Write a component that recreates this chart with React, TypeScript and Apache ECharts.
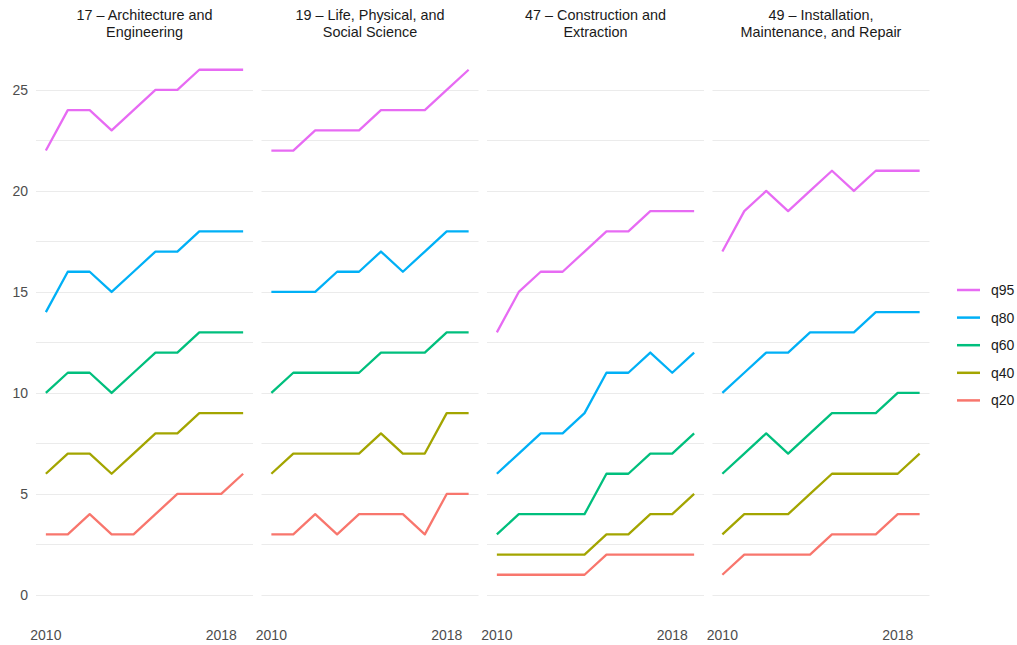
import React, { useEffect, useRef } from "react";
import * as echarts from "echarts";

const years = [2010, 2011, 2012, 2013, 2014, 2015, 2016, 2017, 2018, 2019];
const xTickLabels = [2010, 2018];
const yTickLabels = [0, 5, 10, 15, 20, 25];
const yGridLines = [0, 2.5, 5, 7.5, 10, 12.5, 15, 17.5, 20, 22.5, 25];

const panelTitles = [
  "17 \u2013 Architecture and\nEngineering",
  "19 \u2013 Life, Physical, and\nSocial Science",
  "47 \u2013 Construction and\nExtraction",
  "49 \u2013 Installation,\nMaintenance, and Repair",
];

const seriesNames = ["q95", "q80", "q60", "q40", "q20"];
const seriesColors = ["#E76BF3", "#00B0F6", "#00BF7D", "#A3A500", "#F8766D"];

// Panel 17
const p17_q95 = [22, 24, 24, 23, 24, 25, 25, 26, 26, 26];
const p17_q80 = [14, 16, 16, 15, 16, 17, 17, 18, 18, 18];
const p17_q60 = [10, 11, 11, 10, 11, 12, 12, 13, 13, 13];
const p17_q40 = [6, 7, 7, 6, 7, 8, 8, 9, 9, 9];
const p17_q20 = [3, 3, 4, 3, 3, 4, 5, 5, 5, 6];

// Panel 19
const p19_q95 = [22, 22, 23, 23, 23, 24, 24, 24, 25, 26];
const p19_q80 = [15, 15, 15, 16, 16, 17, 16, 17, 18, 18];
const p19_q60 = [10, 11, 11, 11, 11, 12, 12, 12, 13, 13];
const p19_q40 = [6, 7, 7, 7, 7, 8, 7, 7, 9, 9];
const p19_q20 = [3, 3, 4, 3, 4, 4, 4, 3, 5, 5];

// Panel 47
const p47_q95 = [13, 15, 16, 16, 17, 18, 18, 19, 19, 19];
const p47_q80 = [6, 7, 8, 8, 9, 11, 11, 12, 11, 12];
const p47_q60 = [3, 4, 4, 4, 4, 6, 6, 7, 7, 8];
const p47_q40 = [2, 2, 2, 2, 2, 3, 3, 4, 4, 5];
const p47_q20 = [1, 1, 1, 1, 1, 2, 2, 2, 2, 2];

// Panel 49
const p49_q95 = [17, 19, 20, 19, 20, 21, 20, 21, 21, 21];
const p49_q80 = [10, 11, 12, 12, 13, 13, 13, 14, 14, 14];
const p49_q60 = [6, 7, 8, 7, 8, 9, 9, 9, 10, 10];
const p49_q40 = [3, 4, 4, 4, 5, 6, 6, 6, 6, 7];
const p49_q20 = [1, 2, 2, 2, 2, 3, 3, 3, 4, 4];

const panels = [
  [p17_q95, p17_q80, p17_q60, p17_q40, p17_q20],
  [p19_q95, p19_q80, p19_q60, p19_q40, p19_q20],
  [p47_q95, p47_q80, p47_q60, p47_q40, p47_q20],
  [p49_q95, p49_q80, p49_q60, p49_q40, p49_q20],
];

export default function App() {
  const ref = useRef<HTMLDivElement>(null);

  useEffect(() => {
    if (!ref.current) return;
    const chart = echarts.init(ref.current, null, { renderer: "svg" });

    const panelLeft = 36;
    const panelWidth = 217;
    const panelStep = 225.5;
    const top = 44.5;
    const height = 555.5;
    const labelColor = "#4D4D4D";
    const font = "Liberation Sans, Arial, sans-serif";

    const grids: any[] = [];
    const xAxes: any[] = [];
    const yAxes: any[] = [];
    const series: any[] = [];
    const graphics: any[] = [];

    panels.forEach((panel, pi) => {
      const left = panelLeft + pi * panelStep;
      grids.push({ left, top, width: panelWidth, height, containLabel: false });
      xAxes.push({
        type: "value",
        gridIndex: pi,
        min: 2009.55,
        max: 2019.45,
        axisLine: { show: false },
        axisTick: { show: false },
        splitLine: { show: false },
        axisLabel: {
          customValues: xTickLabels,
          color: labelColor,
          fontSize: 14,
          fontFamily: font,
          margin: 28,
          formatter: (v: number) => String(v),
        },
      });
      yAxes.push({
        type: "value",
        gridIndex: pi,
        min: -0.25,
        max: 27.25,
        axisLine: { show: false },
        axisTick: { show: false },
        splitLine: { show: false },
        axisLabel: {
          show: pi === 0,
          customValues: yTickLabels,
          color: labelColor,
          fontSize: 14,
          fontFamily: font,
          margin: 8,
        },
      });
      panel.forEach((vals, si) => {
        const s: any = {
          type: "line",
          name: seriesNames[si],
          xAxisIndex: pi,
          yAxisIndex: pi,
          data: years.map((y, i) => [y, vals[i]]),
          showSymbol: false,
          symbol: "none",
          color: seriesColors[si],
          lineStyle: { width: 2.3, color: seriesColors[si], join: "round", cap: "butt" },
          z: 2,
          silent: true,
        };
        if (si === 0) {
          s.markLine = {
            silent: true,
            z: 1,
            symbol: ["none", "none"],
            label: { show: false },
            lineStyle: { type: "solid", color: "#EBEBEB", width: 1 },
            emphasis: { disabled: true },
            data: yGridLines.map((v) => ({ yAxis: v })),
          };
        }
        series.push(s);
      });
      graphics.push({
        type: "text",
        x: left + panelWidth / 2,
        y: 6,
        style: {
          text: panelTitles[pi],
          textAlign: "center",
          textVerticalAlign: "top",
          fill: "#1A1A1A",
          fontSize: 14.4,
          fontFamily: font,
          lineHeight: 17,
        },
      });
    });

    chart.setOption({
      animation: false,
      backgroundColor: "#FFFFFF",
      grid: grids,
      xAxis: xAxes,
      yAxis: yAxes,
      series,
      graphic: graphics,
      legend: {
        orient: "vertical",
        left: 957,
        top: 283,
        padding: 0,
        data: seriesNames.map((n, i) => ({ name: n, itemStyle: { color: seriesColors[i] } })),
        icon: "rect",
        itemWidth: 23,
        itemHeight: 2.5,
        itemGap: 13.6,
        selectedMode: false,
        textStyle: {
          color: "#1A1A1A",
          fontSize: 14,
          fontFamily: font,
          lineHeight: 14,
          padding: [0, 0, 0, 6],
        },
      },
    });

    return () => chart.dispose();
  }, []);

  return (
    <div
      ref={ref}
      style={{ position: "absolute", left: 0, top: 0, width: 1017, height: 645 }}
    />
  );
}
